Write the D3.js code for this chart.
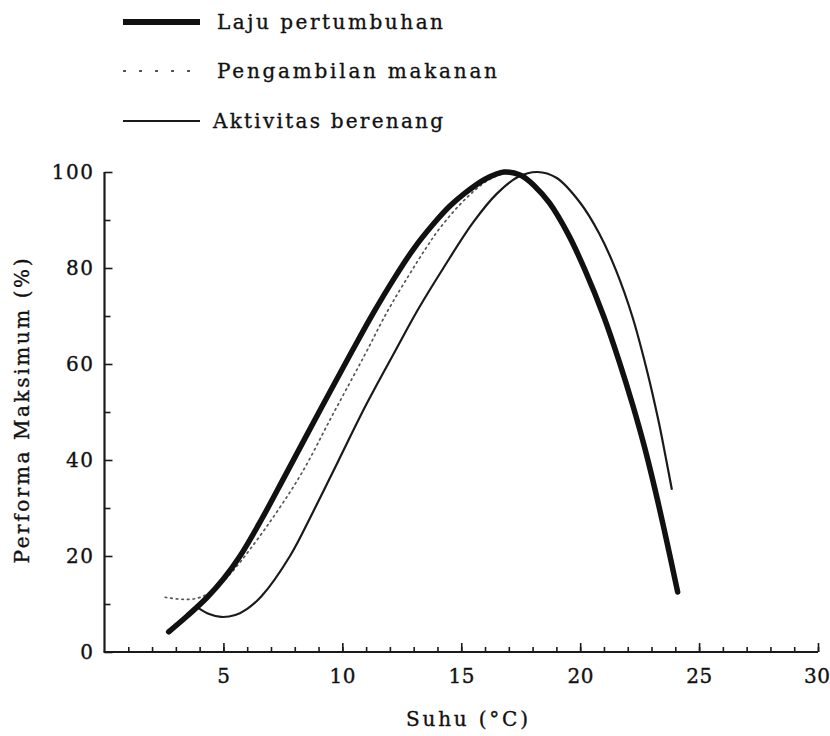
<!DOCTYPE html>
<html>
<head>
<meta charset="utf-8">
<script src="https://cdn.jsdelivr.net/npm/d3@7"></script>
<style>
  html, body { margin: 0; padding: 0; background: #fff; }
  svg { display: block; }
  text { font-family: "DejaVu Serif", "Liberation Serif", serif; fill: #111; stroke: #111; stroke-width: 0.35px; }
</style>
</head>
<body>
<svg id="chart" width="830" height="736"></svg>
<script>
// ---- Data ----
const seriesNames = ["Laju pertumbuhan", "Pengambilan makanan", "Aktivitas berenang"];

const growthX = [2.7, 3.5, 4.3, 5.0, 5.7, 6.6, 7.6, 9.0, 10.4, 11.3, 12.2, 13.0, 13.8, 14.5, 15.1, 16.0, 16.8, 17.5, 18.1, 18.7, 19.5, 20.2, 21.0, 21.65, 22.2, 22.7, 23.15, 23.6, 24.1];
const growthY = [4.2, 7.6, 11.3, 15.2, 20.0, 27.6, 36.8, 49.8, 62.6, 70.6, 78.0, 84.0, 89.0, 92.8, 95.4, 98.5, 100, 99.3, 97.0, 93.6, 87.0, 79.6, 69.8, 60.4, 51.6, 42.8, 33.8, 24.0, 12.5];

const foodX = [2.55, 3.2, 3.8, 4.3, 4.9, 5.5, 6.8, 8.26, 9.6, 10.9, 11.9, 12.8, 13.5, 14.1, 15.2, 16.2, 17.0, 17.5, 18.1, 18.7, 19.5, 20.2, 21.0, 21.65, 22.2, 22.7, 23.15, 23.6, 24.1];
const foodY = [11.4, 11.0, 11.1, 12.0, 14.3, 17.5, 26.0, 37.0, 49.5, 61.5, 71.0, 78.5, 84.0, 88.3, 94.5, 98.5, 99.8, 99.3, 97.0, 93.6, 87.0, 79.6, 69.8, 60.4, 51.6, 42.8, 33.8, 24.0, 12.5];

const swimX = [4.0, 4.4, 4.9, 5.5, 6.0, 6.6, 7.8, 8.8, 9.8, 11.0, 12.2, 13.2, 14.25, 15.5, 16.5, 17.4, 18.2, 19.0, 20.0, 20.8, 21.5, 22.2, 22.8, 23.3, 23.6, 23.85];
const swimY = [9.0, 7.9, 7.3, 7.7, 9.0, 11.6, 20.0, 29.5, 39.5, 51.5, 62.5, 71.5, 80.0, 89.5, 95.5, 99.0, 100, 98.8, 93.6, 87.2, 79.6, 69.8, 58.8, 48.0, 40.5, 34.0];

const xTicksMajor = [5, 10, 15, 20, 25, 30];
const yTicksMajor = [0, 20, 40, 60, 80, 100];
const xTitle = "Suhu (°C)";
const yTitle = "Performa Maksimum (%)";

// ---- Layout ----
const svg = d3.select("#chart");
const x = d3.scaleLinear().domain([0, 30]).range([104.5, 818]);
const y = d3.scaleLinear().domain([0, 100]).range([652, 172]);

const line = d3.line()
  .x(d => x(d[0]))
  .y(d => y(d[1]))
  .curve(d3.curveCatmullRom.alpha(0.5));

const zip = (a, b) => a.map((v, i) => [v, b[i]]);

// ---- Axes ----
const axisColor = "#1a1a1a";

const xMinor = svg.append("g").attr("transform", `translate(0,${y(0)})`)
  .call(d3.axisBottom(x).tickValues(d3.range(1, 31)).tickSize(-5).tickFormat(""));
const xMajor = svg.append("g").attr("transform", `translate(0,${y(0)})`)
  .call(d3.axisBottom(x).tickValues(xTicksMajor).tickSize(-9).tickSizeOuter(0).tickPadding(17));
const yMinor = svg.append("g").attr("transform", `translate(${x(0)},0)`)
  .call(d3.axisLeft(y).tickValues(d3.range(10, 100, 20)).tickSize(-6).tickFormat(""));
const yMajor = svg.append("g").attr("transform", `translate(${x(0)},0)`)
  .call(d3.axisLeft(y).tickValues(yTicksMajor).tickSize(-8).tickSizeOuter(0).tickPadding(10));

[xMinor, xMajor, yMinor, yMajor].forEach(g => {
  g.selectAll("path.domain").remove();
  g.selectAll(".tick line").attr("stroke", axisColor).attr("stroke-width", 1.6);
  g.selectAll(".tick text").attr("fill", "#222").style("font-size", "20px")
    .style("font-family", '"DejaVu Serif", serif');
});
xMajor.selectAll(".tick text").attr("letter-spacing", "0.5px");
yMajor.selectAll(".tick text").attr("letter-spacing", "1.5px");
// keep the last x label inside the picture (reference shows it flush to the edge)
xMajor.selectAll(".tick text").filter(d => d === 30).attr("text-anchor", "end").attr("dx", "12");

// axis lines
svg.append("line").attr("x1", x(0)).attr("x2", x(0)).attr("y1", y(100)).attr("y2", y(0))
  .attr("stroke", axisColor).attr("stroke-width", 2.2);
svg.append("line").attr("x1", x(0) - 1).attr("x2", x(30)).attr("y1", y(0)).attr("y2", y(0))
  .attr("stroke", axisColor).attr("stroke-width", 2.2);

// axis titles
svg.append("text").attr("x", 467).attr("y", 726).attr("text-anchor", "middle")
  .style("font-size", "20px").attr("textLength", 122).attr("lengthAdjust", "spacing")
  .text(xTitle);
svg.append("text").attr("transform", "translate(29,411) rotate(-90)").attr("text-anchor", "middle")
  .style("font-size", "20px").attr("textLength", 305).attr("lengthAdjust", "spacing")
  .text(yTitle);

// ---- Series ----
svg.append("path").datum(zip(foodX, foodY)).attr("d", line)
  .attr("fill", "none").attr("stroke", "#555").attr("stroke-width", 1.7)
  .attr("stroke-dasharray", "1.6,4").attr("stroke-linecap", "round");
svg.append("path").datum(zip(swimX, swimY)).attr("d", line)
  .attr("fill", "none").attr("stroke", "#1a1a1a").attr("stroke-width", 2.2)
  .attr("stroke-linecap", "round");
svg.append("path").datum(zip(growthX, growthY)).attr("d", line)
  .attr("fill", "none").attr("stroke", "#111").attr("stroke-width", 5.5)
  .attr("stroke-linecap", "round").attr("stroke-linejoin", "round");

// ---- Legend ----
const legendRows = [
  { name: seriesNames[0], ly: 22, ty: 29, tx: 217, len: 226, sw: 6, dash: null, color: "#111" },
  { name: seriesNames[1], ly: 71, ty: 78, tx: 217, len: 280, sw: 2, dash: "3,13", color: "#555" },
  { name: seriesNames[2], ly: 121, ty: 128, tx: 213, len: 230, sw: 2.2, dash: null, color: "#1a1a1a" }
];
const lg = svg.append("g");
legendRows.forEach(r => {
  const l = lg.append("line").attr("x1", 123).attr("x2", 200).attr("y1", r.ly).attr("y2", r.ly)
    .attr("stroke", r.color).attr("stroke-width", r.sw);
  if (r.dash) l.attr("stroke-dasharray", r.dash);
  lg.append("text").attr("x", r.tx).attr("y", r.ty).style("font-size", "20px")
    .attr("textLength", r.len).attr("lengthAdjust", "spacing").text(r.name);
});
</script>
</body>
</html>
